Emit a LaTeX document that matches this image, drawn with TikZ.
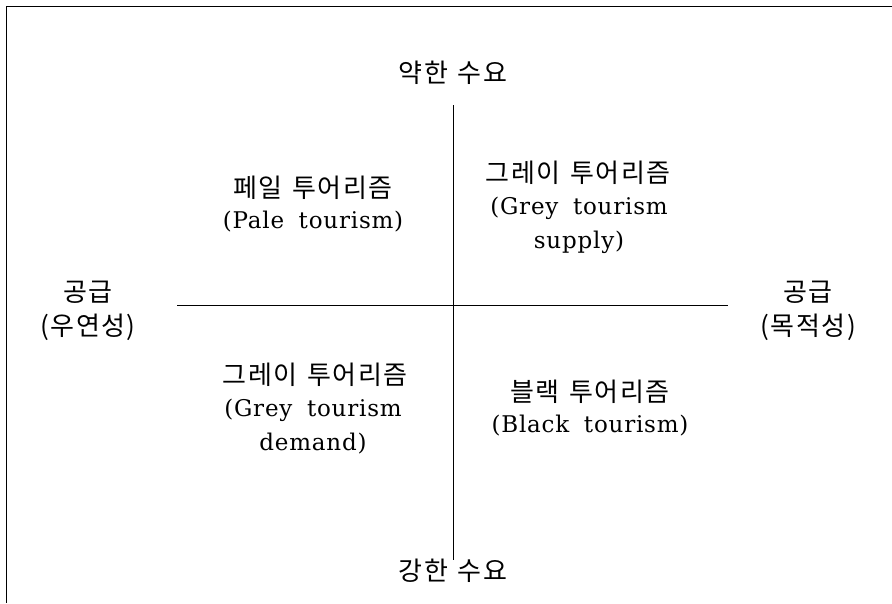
\documentclass[tikz,border=0pt]{standalone}
\usepackage{fontspec}
\setmainfont[WordSpace=1.8,LetterSpace=3.5]{DejaVu Serif}
\newfontfamily\kr[WordSpace=1.3,LetterSpace=6]{Noto Sans CJK KR}
\begin{document}
\begin{tikzpicture}[x=1pt,y=-1pt,
  lab/.style={inner sep=0pt,anchor=center,font=\fontsize{23}{26}\selectfont},
  klab/.style={inner sep=0pt,anchor=center,font=\fontsize{26}{28}\selectfont\kr},
  axis/.style={draw=black,line width=0.8pt},
  frame/.style={draw=black,line width=1.8pt}]
\useasboundingbox (0,0) rectangle (892,603);
\coordinate (ftr) at (892,6.5);
\coordinate (ftl) at (6.5,6.5);
\coordinate (fbl) at (6.5,603);
\draw[frame] (ftr) -- (ftl) -- (fbl);
\coordinate (vt) at (453,105);
\coordinate (vb) at (453,560);
\coordinate (hl) at (177,305);
\coordinate (hr) at (728,305);
\draw[axis] (vt) -- (vb);
\draw[axis] (hl) -- (hr);
\node[klab] (top) at (453,73) {약한 수요};
\node[klab] (bot) at (453,571) {강한 수요};
\node[klab] (l1) at (88,292) {공급};
\node[klab] (l2) at (88,327) {(우연성)};
\node[klab] (r1) at (808,292) {공급};
\node[klab] (r2) at (808,327) {(목적성)};
\node[klab] (pk) at (313,188) {페일 투어리즘};
\node[lab] (pe) at (313,222) {(Pale tourism)};
\node[klab] (gsk) at (578,173) {그레이 투어리즘};
\node[lab] (gse1) at (579,208) {(Grey tourism};
\node[lab] (gse2) at (579,242) {supply)};
\node[klab] (gdk) at (315,375) {그레이 투어리즘};
\node[lab] (gde1) at (313,410) {(Grey tourism};
\node[lab] (gde2) at (313,444) {demand)};
\node[klab] (bk) at (590,392) {블랙 투어리즘};
\node[lab] (be) at (590,426) {(Black tourism)};
\end{tikzpicture}
\end{document}
